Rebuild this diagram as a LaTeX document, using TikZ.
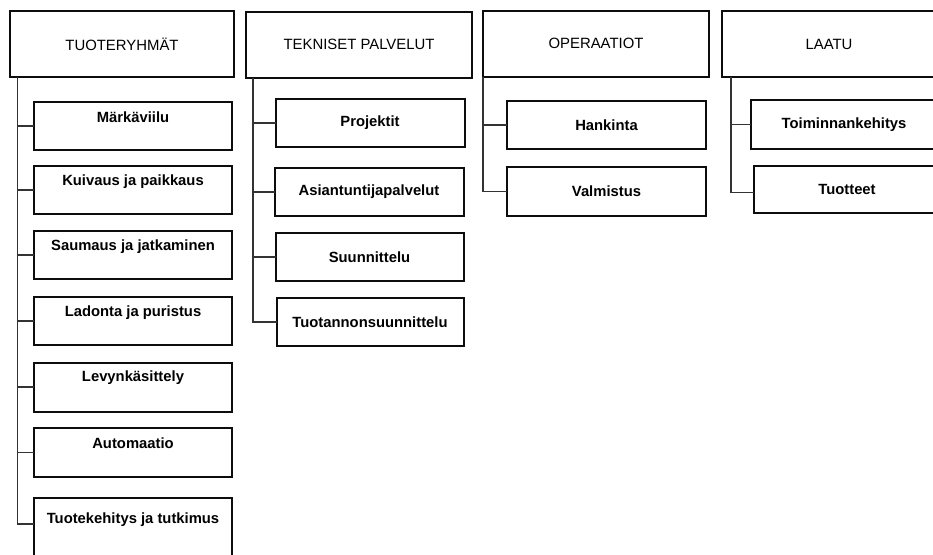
\documentclass[tikz,border=0pt]{standalone}
\usepackage{fontspec}
\setmainfont{Liberation Sans}
\begin{document}
\begin{tikzpicture}[x=1pt,y=-1pt,
  every node/.style={inner sep=0pt, outer sep=0pt},
  boxline/.style={draw=black!95, line width=2pt, fill=white},
  head/.style={boxline, minimum height=66pt, font=\fontsize{14.9}{17}\selectfont},
  sub/.style={boxline, font=\fontsize{14.8}{17}\selectfont\bfseries},
  lbl/.style={font=\fontsize{14.8}{17}\selectfont\bfseries, anchor=center},
  conn/.style={draw=black!80, line width=1.1pt}]
\useasboundingbox (0,0) rectangle (933,554);
\clip (0,0) rectangle (933,554);
\fill[white] (0,0) rectangle (933,554);

% ---- top level units ----
\node[head, minimum width=224pt] (tr) at (122,44) {TUOTERYHMÄT};
\node[head, minimum width=226pt] (tp) at (359,44.5) {TEKNISET PALVELUT};
\node[head, minimum width=226pt] (op) at (596,43.5) {OPERAATIOT};
\node[head, minimum width=214pt] (la) at (829,44) {LAATU};

% trunk positions
\coordinate (trx) at (17.5,0);
\coordinate (tpx) at (253,0);
\coordinate (opx) at (483,0);
\coordinate (lax) at (731,0);

% ---- TUOTERYHMÄT: boxes with label in the upper part ----
\node[sub, minimum width=198pt, minimum height=48pt] (g1) at (133,126) {};
\node[sub, minimum width=198pt, minimum height=48pt] (g2) at (133,190) {};
\node[sub, minimum width=198pt, minimum height=48pt] (g3) at (133,255) {};
\node[sub, minimum width=198pt, minimum height=48pt] (g4) at (133,321) {};
\node[sub, minimum width=198pt, minimum height=49pt] (g5) at (133,387) {};
\node[sub, minimum width=198pt, minimum height=49pt] (g6) at (133,452.5) {};
\node[sub, minimum width=198pt, minimum height=62pt] (g7) at (133,529) {};
\node[lbl] (g1t) at ([yshift=-15.5pt]g1.north) {Märkäviilu};
\node[lbl] (g2t) at ([yshift=-16pt]g2.north) {Kuivaus ja paikkaus};
\node[lbl] (g3t) at ([yshift=-15.5pt]g3.north) {Saumaus ja jatkaminen};
\node[lbl] (g4t) at ([yshift=-15.5pt]g4.north) {Ladonta ja puristus};
\node[lbl] (g5t) at ([yshift=-15pt]g5.north) {Levynkäsittely};
\node[lbl] (g6t) at ([yshift=-15pt]g6.north) {Automaatio};
\node[lbl] (g7t) at ([yshift=-21.5pt]g7.north) {Tuotekehitys ja tutkimus};

\draw[conn] (tr.south -| trx) |- ([yshift=5pt]g7.west);
\foreach \n in {g1,g2,g3,g4,g5,g6}
  \draw[conn] (trx |- \n.west) -- (\n.west);

% ---- TEKNISET PALVELUT ----
\node[sub, minimum width=189pt, minimum height=48pt] (p1) at (370,123) {Projektit};
\node[sub, minimum width=189pt, minimum height=48pt] (p2) at (369,192) {Asiantuntijapalvelut};
\node[sub, minimum width=188pt, minimum height=48pt] (p3) at (369.5,257) {Suunnittelu};
\node[sub, minimum width=187pt, minimum height=48pt] (p4) at (370,322) {Tuotannonsuunnittelu};

\draw[conn] (tp.south -| tpx) |- (p4.west);
\foreach \n in {p1,p2,p3}
  \draw[conn] (tpx |- \n.west) -- (\n.west);

% ---- OPERAATIOT ----
\node[sub, minimum width=199pt, minimum height=48pt] (o1) at (606.5,125) {Hankinta};
\node[sub, minimum width=199pt, minimum height=49pt] (o2) at (606.5,191.5) {Valmistus};

\draw[conn] (op.south -| opx) |- (o2.west);
\draw[conn] (opx |- o1.west) -- (o1.west);

% ---- LAATU ----
\node[sub, minimum width=186pt, minimum height=49pt] (l1) at (844,124.5) {Toiminnankehitys};
\node[sub, minimum width=186pt, minimum height=47pt] (l2) at (847,189.5) {Tuotteet};

\draw[conn] (la.south -| lax) |- ([yshift=-3pt]l2.west);
\draw[conn] (lax |- l1.west) -- (l1.west);
\end{tikzpicture}
\end{document}
